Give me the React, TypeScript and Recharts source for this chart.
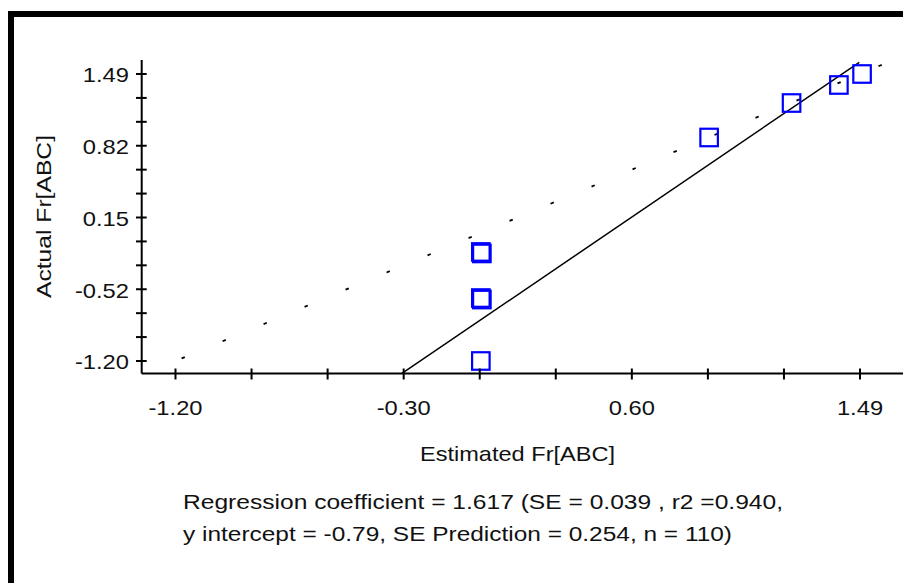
import { ReferenceLine, Scatter, ScatterChart, XAxis, YAxis } from "recharts"

// observed points (estimated vs actual)
const estimated = [0, 0.004, 0, 0.004, 0, 0.897, 1.221, 1.407, 1.498]
const actual = [-0.178, -0.192, -0.61, -0.624, -1.2, 0.895, 1.218, 1.387, 1.49]

const xTicks = [-1.2, -0.9011, -0.6022, -0.3033, -0.0044, 0.2944, 0.5933, 0.8922, 1.1911, 1.49]
const xTickLabels = ["-1.20", "", "", "-0.30", "", "", "0.60", "", "", "1.49"]
const yTicks = [
  1.49, 1.2658, 1.0417, 0.8175, 0.5933, 0.3692, 0.145, -0.0792, -0.3033, -0.5275, -0.7517,
  -0.9758, -1.2,
]
const yTickLabels = ["1.49", "", "", "0.82", "", "", "0.15", "", "", "-0.52", "", "", "-1.20"]

// fitted regression line end points and the y = x guide
const regressionX = [-0.31, 1.487]
const regressionY = [-1.317, 1.6]
const identityEnds = [-1.176, 1.6]

const annotation = [
  "Regression coefficient = 1.617 (SE = 0.039 , r2 =0.940,",
  "y intercept = -0.79, SE Prediction = 0.254, n = 110)",
]

const FONT = "'Liberation Sans', Arial, sans-serif"
const INK = "#111"
const STRETCH = 1.13

const points = estimated.map((x, i) => ({ x, y: actual[i] }))

function YTick(props: any) {
  const { x, y, payload } = props
  const i = yTicks.indexOf(payload.value)
  const label = yTickLabels[i >= 0 ? i : props.index]
  return (
    <g>
      <line x1={x - 5.7} x2={x + 5} y1={y} y2={y} stroke="#000" strokeWidth={2} />
      {label ? (
        <text
          transform={`translate(129 ${y + 8.5}) scale(${STRETCH} 1)`}
          textAnchor="end"
          fontFamily={FONT}
          fontSize={21}
          fill={INK}
        >
          {label}
        </text>
      ) : null}
    </g>
  )
}

function XTick(props: any) {
  const { x, y, payload } = props
  const i = xTicks.indexOf(payload.value)
  const label = xTickLabels[i >= 0 ? i : props.index]
  return (
    <g>
      <line x1={x} x2={x} y1={y - 5} y2={y + 6} stroke="#000" strokeWidth={2} />
      {label ? (
        <text
          transform={`translate(${x} ${y + 41.5}) scale(${STRETCH} 1)`}
          textAnchor="middle"
          fontFamily={FONT}
          fontSize={21}
          fill={INK}
        >
          {label}
        </text>
      ) : null}
    </g>
  )
}

function Square(props: any) {
  const { cx, cy } = props
  if (cx == null || cy == null) return <g />
  return (
    <rect x={cx - 8.75} y={cy - 8.75} width={17.5} height={17.5} fill="none" stroke="#0000ff" strokeWidth={2.2} />
  )
}

export default function App() {
  return (
    <div
      style={{
        position: "absolute",
        left: 0,
        top: 0,
        width: 903,
        height: 583,
        overflow: "hidden",
        background: "#fff",
      }}
    >
      <div
        style={{
          position: "absolute",
          left: 8,
          top: 11,
          width: 1200,
          height: 1200,
          border: "6px solid #000",
        }}
      />
      <div style={{ position: "absolute", left: 0, top: 0 }}>
        <ScatterChart
          width={903}
          height={583}
          margin={{ top: 60, right: 0, bottom: 149.5, left: 41.7 }}
        >
          <XAxis
            type="number"
            dataKey="x"
            domain={[-1.3328, 1.6589]}
            allowDataOverflow
            ticks={xTicks}
            interval={0}
            height={60}
            tickSize={0}
            tickMargin={0}
            tickLine={false}
            axisLine={{ stroke: "#000", strokeWidth: 2 }}
            tick={XTick}
            label={() => (
              <text
                x={517.5}
                y={461}
                textAnchor="middle"
                fontFamily={FONT}
                fontSize={21}
                fill={INK}
                textLength={195}
                lengthAdjust="spacingAndGlyphs"
              >
                Estimated Fr[ABC]
              </text>
            )}
          />
          <YAxis
            type="number"
            dataKey="y"
            domain={[-1.3172, 1.6212]}
            allowDataOverflow
            ticks={yTicks}
            interval={0}
            width={100}
            tickSize={0}
            tickMargin={0}
            tickLine={false}
            axisLine={{ stroke: "#000", strokeWidth: 2 }}
            tick={YTick}
            label={() => (
              <text
                transform="translate(51 216.5) rotate(-90)"
                textAnchor="middle"
                fontFamily={FONT}
                fontSize={21}
                fill={INK}
                textLength={163}
                lengthAdjust="spacingAndGlyphs"
              >
                Actual Fr[ABC]
              </text>
            )}
          />
          <ReferenceLine
            segment={[
              { x: identityEnds[0], y: identityEnds[0] },
              { x: identityEnds[1], y: identityEnds[1] },
            ]}
            stroke="#000"
            strokeWidth={1.8}
            strokeDasharray="3.5 40.95"
            ifOverflow="visible"
          />
          <ReferenceLine
            segment={[
              { x: regressionX[0], y: regressionY[0] },
              { x: regressionX[1], y: regressionY[1] },
            ]}
            stroke="#000"
            strokeWidth={1.5}
            ifOverflow="visible"
          />
          <Scatter data={points} shape={Square} isAnimationActive={false} />
        </ScatterChart>
      </div>
      <svg
        width={903}
        height={583}
        style={{ position: "absolute", left: 0, top: 0, pointerEvents: "none" }}
      >
        {annotation.map((line, i) => (
          <text
            key={i}
            x={183}
            y={509 + i * 32}
            fontFamily={FONT}
            fontSize={20}
            fill={INK}
            textLength={i === 0 ? 600 : 549}
            lengthAdjust="spacingAndGlyphs"
          >
            {line}
          </text>
        ))}
      </svg>
    </div>
  )
}
